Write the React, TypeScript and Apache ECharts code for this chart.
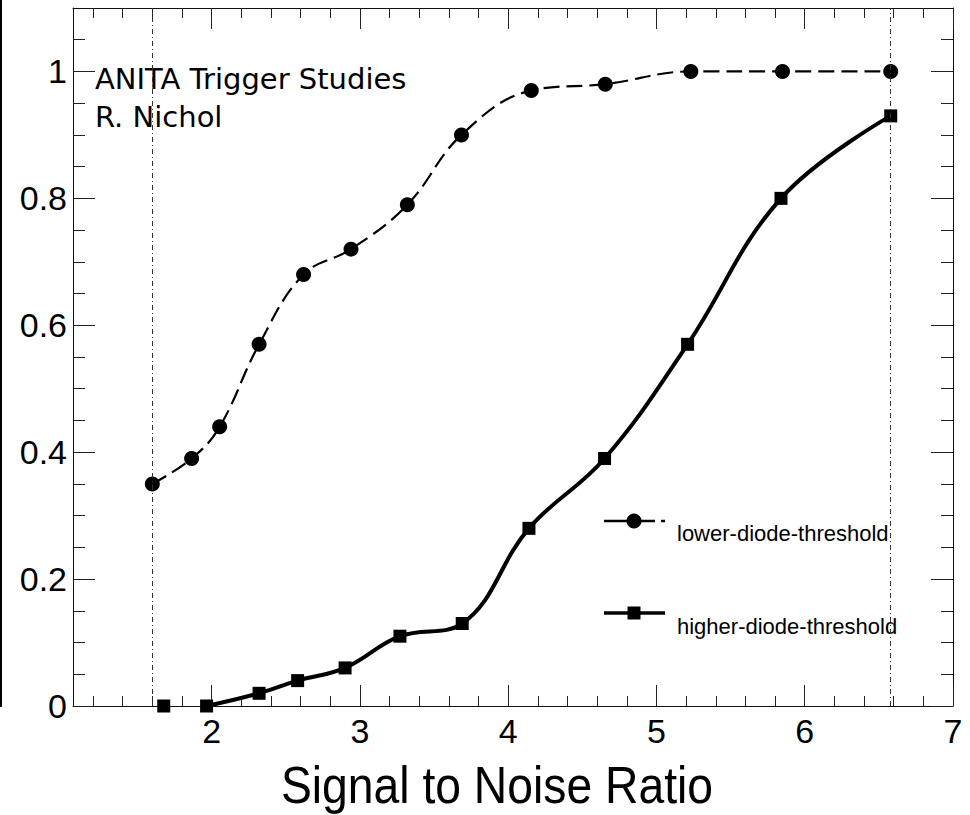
import React, { useEffect, useRef } from "react";
import * as echarts from "echarts";

// ---- data ----
const lowerX = [1.6, 1.865, 2.054, 2.32, 2.62, 2.94, 3.32, 3.685, 4.156, 4.655, 5.232, 5.85, 6.58];
const lowerY = [0.35, 0.39, 0.44, 0.57, 0.68, 0.72, 0.79, 0.9, 0.97, 0.98, 1.0, 1.0, 1.0];
const higherX = [1.677, 1.966, 2.32, 2.58, 2.9, 3.27, 3.69, 4.14, 4.65, 5.21, 5.84, 6.58];
const higherY = [0.0, 0.0, 0.02, 0.04, 0.06, 0.11, 0.13, 0.28, 0.39, 0.57, 0.8, 0.93];
const rangeLines = [1.6, 6.58];

const xMajorTicks = [2, 3, 4, 5, 6, 7];
const xMinorTicks = [1.2, 1.4, 1.6, 1.8, 2.2, 2.4, 2.6, 2.8, 3.2, 3.4, 3.6, 3.8, 4.2, 4.4, 4.6, 4.8, 5.2, 5.4, 5.6, 5.8, 6.2, 6.4, 6.6, 6.8];
const yMajorTicks = [0, 0.2, 0.4, 0.6, 0.8, 1];
const yMinorTicks = [0.05, 0.1, 0.15, 0.25, 0.3, 0.35, 0.45, 0.5, 0.55, 0.65, 0.7, 0.75, 0.85, 0.9, 0.95, 1.05];

const xMin = 1.065;
const xMax = 7;
const yMin = 0;
const yMax = 1.1;

const title1 = "ANITA Trigger Studies";
const title2 = "R. Nichol";
const xTitle = "Signal to Noise Ratio";
const legendNames = ["lower-diode-threshold", "higher-diode-threshold"];

export default function App() {
  const ref = useRef<HTMLDivElement>(null);
  useEffect(() => {
    if (!ref.current) return;
    const chart = echarts.init(ref.current, undefined, { renderer: "svg" });
    const lowerData = lowerX.map((x, i) => [x, lowerY[i]]);
    const higherData = higherX.map((x, i) => [x, higherY[i]]);
    const tickStyle = { color: "#222", width: 1 };
    const mkX = (pos: string, major: boolean, labels: boolean) => ({
      type: "value",
      position: pos,
      min: xMin,
      max: xMax,
      splitLine: { show: false },
      axisLine: { show: major, onZero: false, lineStyle: { color: "#111", width: 1 } },
      axisTick: {
        show: true,
        inside: true,
        length: major ? 21 : 10,
        customValues: major ? xMajorTicks : xMinorTicks,
        lineStyle: tickStyle,
      },
      axisLabel: labels
        ? {
            show: true,
            customValues: xMajorTicks,
            margin: 8,
            fontFamily: "Liberation Sans",
            fontSize: 34,
            color: "#000",
          }
        : { show: false },
    });
    const mkY = (pos: string, major: boolean, labels: boolean) => ({
      type: "value",
      position: pos,
      min: yMin,
      max: yMax,
      splitLine: { show: false },
      axisLine: { show: major, onZero: false, lineStyle: { color: "#111", width: 1 } },
      axisTick: {
        show: true,
        inside: true,
        length: major ? 22 : 12,
        customValues: major ? yMajorTicks : yMinorTicks,
        lineStyle: tickStyle,
      },
      axisLabel: labels
        ? {
            show: true,
            customValues: yMajorTicks,
            margin: 6,
            fontFamily: "Liberation Sans",
            fontSize: 34,
            color: "#000",
          }
        : { show: false },
    });

    chart.setOption({
      animation: false,
      backgroundColor: "#fff",
      grid: { left: 73, right: 17, top: 8, bottom: 109, containLabel: false },
      xAxis: [mkX("bottom", true, true), mkX("bottom", false, false), mkX("top", true, false), mkX("top", false, false)],
      yAxis: [mkY("left", true, true), mkY("left", false, false), mkY("right", true, false), mkY("right", false, false)],
      series: [
        {
          name: legendNames[0],
          type: "line",
          xAxisIndex: 0,
          yAxisIndex: 0,
          data: lowerData,
          smooth: 0.4,
          symbol: "circle",
          symbolSize: 15,
          itemStyle: { color: "#000", opacity: 1 },
          lineStyle: { color: "#000", width: 2.2, type: [16, 7] },
          z: 3,
          markLine: {
            silent: true,
            symbol: "none",
            label: { show: false },
            lineStyle: { color: "#333", width: 1, type: [5, 3, 1, 3] },
            data: rangeLines.map((v) => ({ xAxis: v })),
          },
        },
        {
          name: legendNames[1],
          type: "line",
          xAxisIndex: 0,
          yAxisIndex: 0,
          data: higherData.slice(1),
          smooth: 0.4,
          symbol: "rect",
          symbolSize: 13,
          itemStyle: { color: "#000", opacity: 1 },
          lineStyle: { color: "#000", width: 4 },
          z: 3,
        },
        {
          name: legendNames[1],
          type: "scatter",
          xAxisIndex: 0,
          yAxisIndex: 0,
          data: higherData.slice(0, 1),
          symbol: "rect",
          symbolSize: 13,
          itemStyle: { color: "#000", opacity: 1 },
          z: 3,
        },
      ],
      graphic: [
        { type: "line", shape: { x1: 1, y1: 0, x2: 1, y2: 707 }, style: { stroke: "#000", lineWidth: 2 } },
        {
          type: "text",
          x: 95,
          y: 79,
          style: { text: title1, fontFamily: "DejaVu Sans", fontSize: 29, fill: "#000", verticalAlign: "middle" },
        },
        {
          type: "text",
          x: 95,
          y: 117,
          style: { text: title2, fontFamily: "DejaVu Sans", fontSize: 29, fill: "#000", verticalAlign: "middle" },
        },
        {
          type: "text",
          x: 497,
          y: 785,
          scaleX: 0.89,
          style: {
            text: xTitle,
            fontFamily: "Liberation Sans",
            fontSize: 52,
            fill: "#000",
            align: "center",
            verticalAlign: "middle",
          },
        },
        // legend: lower
        { type: "line", shape: { x1: 604, y1: 521, x2: 655, y2: 521 }, style: { stroke: "#000", lineWidth: 2.5 } },
        { type: "line", shape: { x1: 661, y1: 521, x2: 665, y2: 521 }, style: { stroke: "#000", lineWidth: 2.5 } },
        { type: "circle", shape: { cx: 634, cy: 521, r: 7.5 }, style: { fill: "#000" } },
        {
          type: "text",
          x: 677,
          y: 533,
          style: { text: legendNames[0], fontFamily: "Liberation Sans", fontSize: 22, fill: "#000", verticalAlign: "middle" },
        },
        // legend: higher
        { type: "line", shape: { x1: 604, y1: 613, x2: 665, y2: 613 }, style: { stroke: "#000", lineWidth: 3.5 } },
        { type: "rect", shape: { x: 627.5, y: 606.5, width: 13, height: 13 }, style: { fill: "#000" } },
        {
          type: "text",
          x: 677,
          y: 626,
          style: { text: legendNames[1], fontFamily: "Liberation Sans", fontSize: 22, fill: "#000", verticalAlign: "middle" },
        },
      ],
    });
    return () => chart.dispose();
  }, []);
  return <div ref={ref} style={{ width: 970, height: 815, position: "absolute", left: 0, top: 0 }} />;
}
